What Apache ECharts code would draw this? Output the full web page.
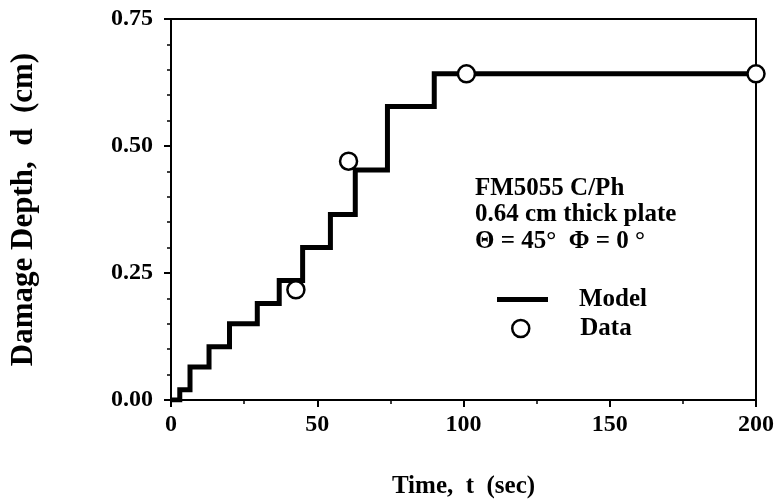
<!DOCTYPE html>
<html>
<head>
<meta charset="utf-8">
<script src="https://cdn.jsdelivr.net/npm/echarts@6/dist/echarts.min.js"></script>
<style>html,body{margin:0;padding:0;background:#fff;}#chart{width:777px;height:504px;}</style>
</head>
<body>
<div id="chart"></div>
<script>
// Model step function: time at which each step occurs and the depth reached
const stepTimes  = [0, 3, 6.5, 13, 20, 29.5, 37, 45, 54.5, 63, 74, 90];
const stepDepths = [0, 0.02, 0.065, 0.105, 0.15, 0.19, 0.235, 0.30, 0.365, 0.453, 0.578, 0.642];
const modelEndTime = 200;
// Measured data
const dataTimes  = [42.7, 60.7, 101, 200];
const dataDepths = [0.217, 0.47, 0.642, 0.642];
// Axis ticks
const xTicks = [0, 50, 100, 150, 200];
const yTicks = [0.00, 0.25, 0.50, 0.75];
// Annotation
const noteLines = ['FM5055 C/Ph', '0.64 cm thick plate', '\u0398 = 45\u00B0  \u03A6 = 0 \u00B0'];

const modelPts = [[stepTimes[0], stepDepths[0]]];
for (let i = 1; i < stepTimes.length; i++) {
  modelPts.push([stepTimes[i], stepDepths[i - 1]]);
  modelPts.push([stepTimes[i], stepDepths[i]]);
}
modelPts.push([modelEndTime, stepDepths[stepDepths.length - 1]]);
const dataPts = dataTimes.map((t, i) => [t, dataDepths[i]]);

const FONT = '"Liberation Serif", "Times New Roman", serif';
const chart = echarts.init(document.getElementById('chart'), null, {renderer: 'canvas'});
const axisLine = {show: true, onZero: false, lineStyle: {color: '#000', width: 2}};
const axisTick = {show: true, inside: false, length: 7, lineStyle: {color: '#000', width: 2}};
chart.setOption({
  animation: false,
  backgroundColor: '#fff',
  grid: {left: 169, right: 17, top: 19, bottom: 104, show: true, borderColor: '#000', borderWidth: 2, backgroundColor: 'transparent'},
  xAxis: {
    type: 'value', min: xTicks[0], max: xTicks[xTicks.length - 1], interval: 50,
    axisLine: axisLine, axisTick: axisTick,
    minorTick: {show: true, splitNumber: 2, length: 4, lineStyle: {color: '#000', width: 1.5}},
    splitLine: {show: false}, minorSplitLine: {show: false},
    axisLabel: {color: '#000', fontFamily: FONT, fontWeight: 'bold', fontSize: 24, margin: 13},
    name: 'Time,  t  (sec)', nameLocation: 'middle', nameGap: 74,
    nameTextStyle: {color: '#000', fontFamily: FONT, fontWeight: 'bold', fontSize: 25}
  },
  yAxis: {
    type: 'value', min: yTicks[0], max: yTicks[yTicks.length - 1], interval: 0.25,
    axisLine: axisLine, axisTick: axisTick,
    minorTick: {show: true, splitNumber: 5, length: 4, lineStyle: {color: '#000', width: 1.5}},
    splitLine: {show: false}, minorSplitLine: {show: false},
    axisLabel: {color: '#000', fontFamily: FONT, fontWeight: 'bold', fontSize: 24, margin: 18,
      formatter: v => v.toFixed(2)},
    name: 'Damage Depth,  d  (cm)', nameLocation: 'middle', nameGap: 132, nameRotate: 90,
    nameTextStyle: {color: '#000', fontFamily: FONT, fontWeight: 'bold', fontSize: 31}
  },
  legend: [
    {
      data: [{name: 'Model', icon: 'rect', itemStyle: {color: '#000'}}],
      left: 492, top: 282, orient: 'vertical', itemWidth: 51, itemHeight: 5,
      textStyle: {color: '#000', fontFamily: FONT, fontWeight: 'bold', fontSize: 25, padding: [0, 0, 0, 26]}
    },
    {
      data: [{name: 'Data', icon: 'circle', itemStyle: {color: '#fff', borderColor: '#000', borderWidth: 2.5}}],
      left: 506, top: 311, orient: 'vertical', itemWidth: 17, itemHeight: 17,
      textStyle: {color: '#000', fontFamily: FONT, fontWeight: 'bold', fontSize: 25, padding: [0, 0, 0, 46]}
    }
  ],
  graphic: noteLines.map((s, i) => ({
    type: 'text', left: 475, top: 176 + i * 26.5, z: 10,
    style: {text: s, fill: '#000', font: 'bold 25px ' + FONT}
  })),
  series: [
    {
      name: 'Model', type: 'line', data: modelPts, showSymbol: false, symbol: 'none',
      color: '#000', lineStyle: {color: '#000', width: 5, join: 'miter'}, z: 2
    },
    {
      name: 'Data', type: 'scatter', data: dataPts, symbol: 'circle', symbolSize: 17, clip: false,
      itemStyle: {color: '#fff', borderColor: '#000', borderWidth: 2.5, opacity: 1}, z: 5
    }
  ]
});
</script>
</body>
</html>
